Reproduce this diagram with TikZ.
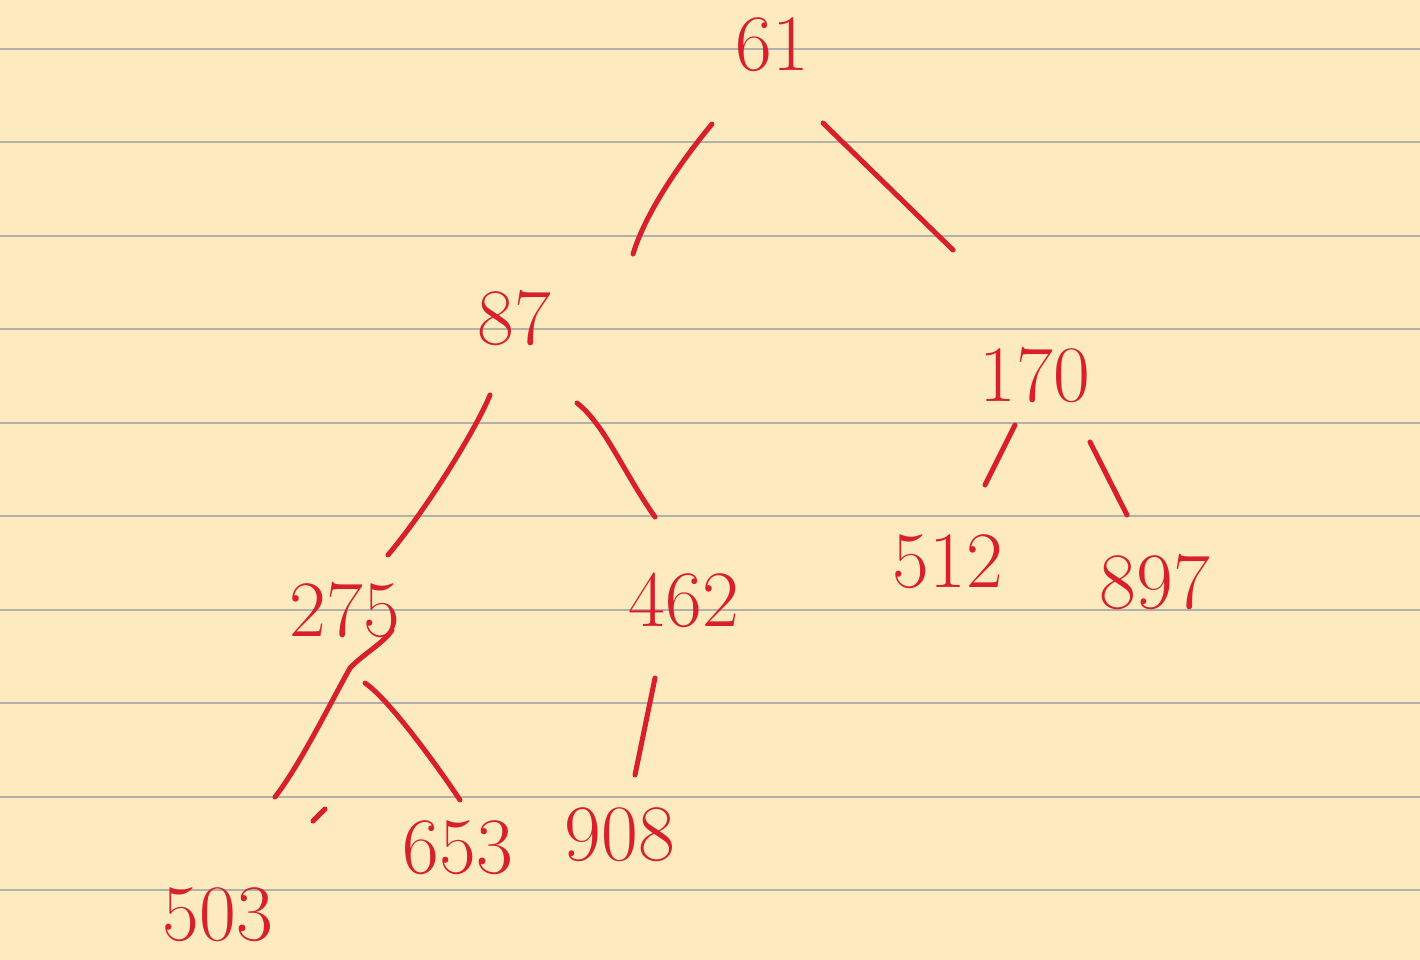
\documentclass[tikz,border=0pt]{standalone}
\definecolor{paper}{RGB}{253,234,191}
\definecolor{rulegray}{RGB}{178,176,170}
\definecolor{ink}{RGB}{215,32,43}
\begin{document}
\begin{tikzpicture}[x=1pt,y=-1pt,
  num/.style={text=ink, font=\fontsize{80}{80}\selectfont, inner sep=0pt, anchor=center},
  edge/.style={draw=ink, line width=5pt, line cap=round, line join=round},
  ruling/.style={draw=rulegray, line width=2pt}]
\fill[paper] (0,0) rectangle (1420,960);
\useasboundingbox (0,0) rectangle (1420,960);
\foreach \k in {0,...,9} \draw[ruling] (0,{49+93.45*\k}) -- (1420,{49+93.45*\k});
% nodes
\node[num] (r) at (772,45) {61};
\node[num] (a) at (514,318) {87};
\node[num] (b) at (1035,375) {170};
\node[num] (c) at (345,610) {275};
\node[num] (d) at (684,600) {462};
\node[num] (e) at (948,562) {512};
\node[num] (f) at (1155,582) {897};
\node[num] (g) at (218,915) {503};
\node[num] (h) at (458,848) {653};
\node[num] (i) at (620,835) {908};
% connectors
\draw[edge] ([shift={(-60,79)}]r.center) .. controls (692,148) and (648,205) .. ([shift={(119,-64)}]a.center);
\draw[edge] ([shift={(51,78)}]r.center) -- ([shift={(-82,-125)}]b.center);
\draw[edge] ([shift={(-24,77)}]a.center) .. controls (478,425) and (430,505) .. ([shift={(43,-55)}]c.center);
\draw[edge] ([shift={(63,85)}]a.center) .. controls (605,425) and (622,470) .. ([shift={(-29,-83)}]d.center);
\draw[edge] ([shift={(-20,50)}]b.center) -- ([shift={(37,-77)}]e.center);
\draw[edge] ([shift={(55,67)}]b.center) -- ([shift={(-28,-67)}]f.center);
\draw[edge] ([shift={(47,20)}]c.center) .. controls (385,642) and (362,655) .. (350,668)
  .. controls (332,700) and (300,765) .. ([shift={(57,-118)}]g.center);
\draw[edge] ([shift={(20,73)}]c.center) .. controls (390,700) and (440,770) .. ([shift={(2,-48)}]h.center);
\draw[edge] ([shift={(-29,78)}]d.center) -- ([shift={(15,-60)}]i.center);
% stray pen mark
\draw[edge] (313,821) -- (325,809);
\end{tikzpicture}
\end{document}
